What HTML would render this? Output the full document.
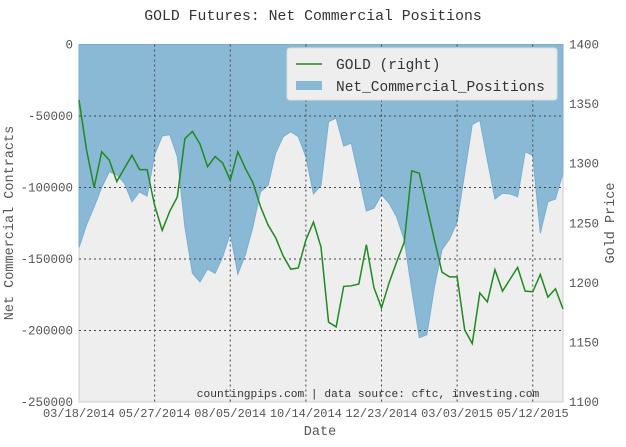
<!DOCTYPE html>
<html><head><meta charset="utf-8"><style>
body{margin:0;background:#fff;}
svg{display:block;font-family:"Liberation Mono",monospace;}
</style></head><body>
<svg id="chart" width="626" height="447" xmlns="http://www.w3.org/2000/svg">
<text x="313" y="20" text-anchor="middle" font-size="14.8" fill="#333">GOLD Futures: Net Commercial Positions</text>
<rect x="79" y="44.5" width="484" height="357.5" fill="#eeeeee" stroke="#cccccc"/>
<g id="plot"></g>
</svg>
<script>
const netPositions=[-142000,-126000,-113500,-100000,-89000,-91000,-97000,-110000,-103000,-106000,-77000,-64000,-63000,-78500,-127500,-160000,-166000,-157000,-160000,-148500,-132000,-160500,-147000,-127500,-103000,-98500,-76000,-64500,-61000,-64500,-78500,-104500,-98500,-54000,-51500,-71000,-69000,-92500,-116500,-114500,-105000,-111000,-120500,-136500,-171500,-205000,-203000,-169500,-143500,-136000,-124000,-90000,-56000,-53000,-81000,-108000,-104000,-104500,-106500,-75000,-77500,-132000,-110000,-108000,-90000];
const goldPrice=[1353.5,1311.5,1280,1310,1303,1285,1296,1307,1295,1295,1265,1244,1260,1272,1321,1327,1316.5,1297.5,1306,1300.5,1286,1310,1296,1284,1264,1248.5,1238,1222.5,1211.5,1212.5,1236,1251,1230,1167,1163,1197,1197.5,1199,1232,1196,1179,1200,1217.5,1234,1294,1292,1264,1236,1209,1205,1205,1160.5,1149,1191.5,1184,1211,1193,1203,1213,1193,1192.5,1207,1188,1195,1178];
const leftTicks=[0,-50000,-100000,-150000,-200000,-250000];
const rightTicks=[1400,1350,1300,1250,1200,1150,1100];
const dateLabels=["03/18/2014","05/27/2014","08/05/2014","10/14/2014","12/23/2014","03/03/2015","05/12/2015"];
const weeksPerLabel=10;

const X0=79,X1=563,Y0=44.5,Y1=402;
const nPts=netPositions.length;
const xs=i=>X0+i*(X1-X0)/(nPts-1);
const yL=v=>Y0+(0-v)/250000*(Y1-Y0);
const yR=v=>Y0+(1400-v)/300*(Y1-Y0);
const NS="http://www.w3.org/2000/svg";
const svg=document.getElementById('chart');
const g=document.getElementById('plot');
function mk(tag,attrs,parent){const e=document.createElementNS(NS,tag);for(const k in attrs)e.setAttribute(k,attrs[k]);(parent||g).appendChild(e);return e;}

let d=`M${xs(0)},${yL(0)}`;
netPositions.forEach((v,i)=>{d+=` L${xs(i)},${yL(v)}`;});
d+=` L${xs(nPts-1)},${yL(0)} Z`;
const area=mk('path',{d:d,fill:'#8ab9d6',stroke:'#7aaecf','stroke-width':1});



leftTicks.forEach((t,k)=>{
  const y=yL(t);
  if(k>0&&k<leftTicks.length-1){const l=mk('line',{x1:X0,x2:X1,y1:y,y2:y,stroke:'#444','stroke-dasharray':'2,3','stroke-width':1});
  
  }
  const tx=mk('text',{x:73,y:y+4,'text-anchor':'end','font-size':12.5,fill:'#555'},svg);
  tx.textContent=t;
  
  
});
rightTicks.forEach(t=>{
  const tx=mk('text',{x:569,y:yR(t)+4,'font-size':12.5,fill:'#555'},svg);
  tx.textContent=t;
  
  
});
dateLabels.forEach((s,k)=>{
  const x=xs(k*weeksPerLabel);
  if(k>0){const l=mk('line',{x1:x,x2:x,y1:Y0,y2:Y1,stroke:'#444','stroke-dasharray':'2,3','stroke-width':1});
  
  }
  const tx=mk('text',{x:x,y:417,'text-anchor':'middle','font-size':12,fill:'#555'},svg);
  tx.textContent=s;
  
  
});

const pts=goldPrice.map((v,i)=>`${xs(i)},${yR(v)}`).join(' ');
const line=mk('polyline',{points:pts,fill:'none',stroke:'#1f8a1f','stroke-width':1.5});



const lg=mk('g',{},svg);


mk('rect',{x:287,y:48,width:270,height:52,rx:3,fill:'#eeeeee',stroke:'#dddddd'},lg);
mk('line',{x1:296,x2:322,y1:64,y2:64,stroke:'#1f8a1f','stroke-width':1.5},lg);
mk('rect',{x:296,y:81,width:26,height:9,fill:'#8ab9d6'},lg);
const t1=mk('text',{x:336,y:69,'font-size':14.5,fill:'#333'},lg);t1.textContent='GOLD (right)';


const t2=mk('text',{x:336,y:91,'font-size':14.5,fill:'#333'},lg);t2.textContent='Net_Commercial_Positions';



const f=mk('text',{x:368,y:397,'text-anchor':'middle','font-size':11.2,fill:'#333'},svg);
f.textContent='countingpips.com | data source: cftc, investing.com';


const xt=mk('text',{x:320,y:435,'text-anchor':'middle','font-size':13.5,fill:'#555'},svg);
xt.textContent='Date';


const yt=mk('text',{x:0,y:0,'text-anchor':'middle','font-size':13.5,fill:'#555',transform:'translate(13,223) rotate(-90)'},svg);
yt.textContent='Net Commercial Contracts';


const yr=mk('text',{x:0,y:0,'text-anchor':'middle','font-size':13.5,fill:'#555',transform:'translate(614,223) rotate(-90)'},svg);
yr.textContent='Gold Price';


</script>
</body></html>
